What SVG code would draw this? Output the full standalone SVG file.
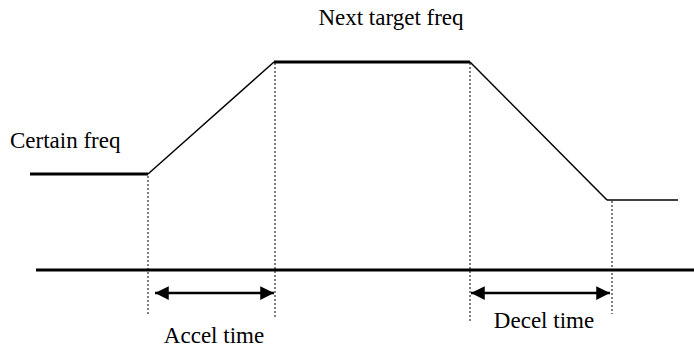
<svg xmlns="http://www.w3.org/2000/svg" width="694" height="347" viewBox="0 0 694 347">
<style>
text{font-family:"Liberation Serif","Times New Roman",serif;font-size:23px;fill:#000}
.thick{stroke:#000;stroke-width:3;fill:none}
.thin{stroke:#000;stroke-width:1.5;fill:none}
.dot{stroke:#000;stroke-width:1;stroke-dasharray:2,2;fill:none}
.arr{stroke:#000;stroke-width:2.5;fill:none}
</style>
<defs>
<marker id="ah" viewBox="0 0 10 10" refX="10" refY="5" markerWidth="6" markerHeight="5.5" orient="auto-start-reverse" markerUnits="strokeWidth">
<path d="M0,0 L10,5 L0,10 Z" fill="#000"/>
</marker>
</defs>
<g id="profile">
<line class="thick" x1="30" y1="174" x2="148" y2="174"/>
<line class="thin" x1="148" y1="174" x2="274" y2="62"/>
<line class="thick" x1="274" y1="62" x2="470" y2="62"/>
<line class="thin" x1="470" y1="62" x2="607" y2="200"/>
<line class="thin" x1="607" y1="200" x2="678" y2="200"/>
<line class="thick" x1="36" y1="270" x2="694" y2="270"/>
</g>
<g id="guides">
<line class="dot" x1="148" y1="176" x2="148" y2="314"/>
<line class="dot" x1="275" y1="63" x2="275" y2="319"/>
<line class="dot" x1="470" y1="63" x2="470" y2="323"/>
<line class="dot" x1="612" y1="201" x2="612" y2="314"/>
</g>
<g id="connectors">
<line class="arr" x1="155" y1="293" x2="274" y2="293" marker-start="url(#ah)" marker-end="url(#ah)"/>
<line class="arr" x1="471" y1="293" x2="610" y2="293" marker-start="url(#ah)" marker-end="url(#ah)"/>
</g>
<g id="labels">
<text x="391" y="25" text-anchor="middle">Next target freq</text>
<text x="10" y="148">Certain freq</text>
<text x="214" y="343" text-anchor="middle">Accel time</text>
<text x="544" y="328" text-anchor="middle">Decel time</text>
</g>
</svg>
